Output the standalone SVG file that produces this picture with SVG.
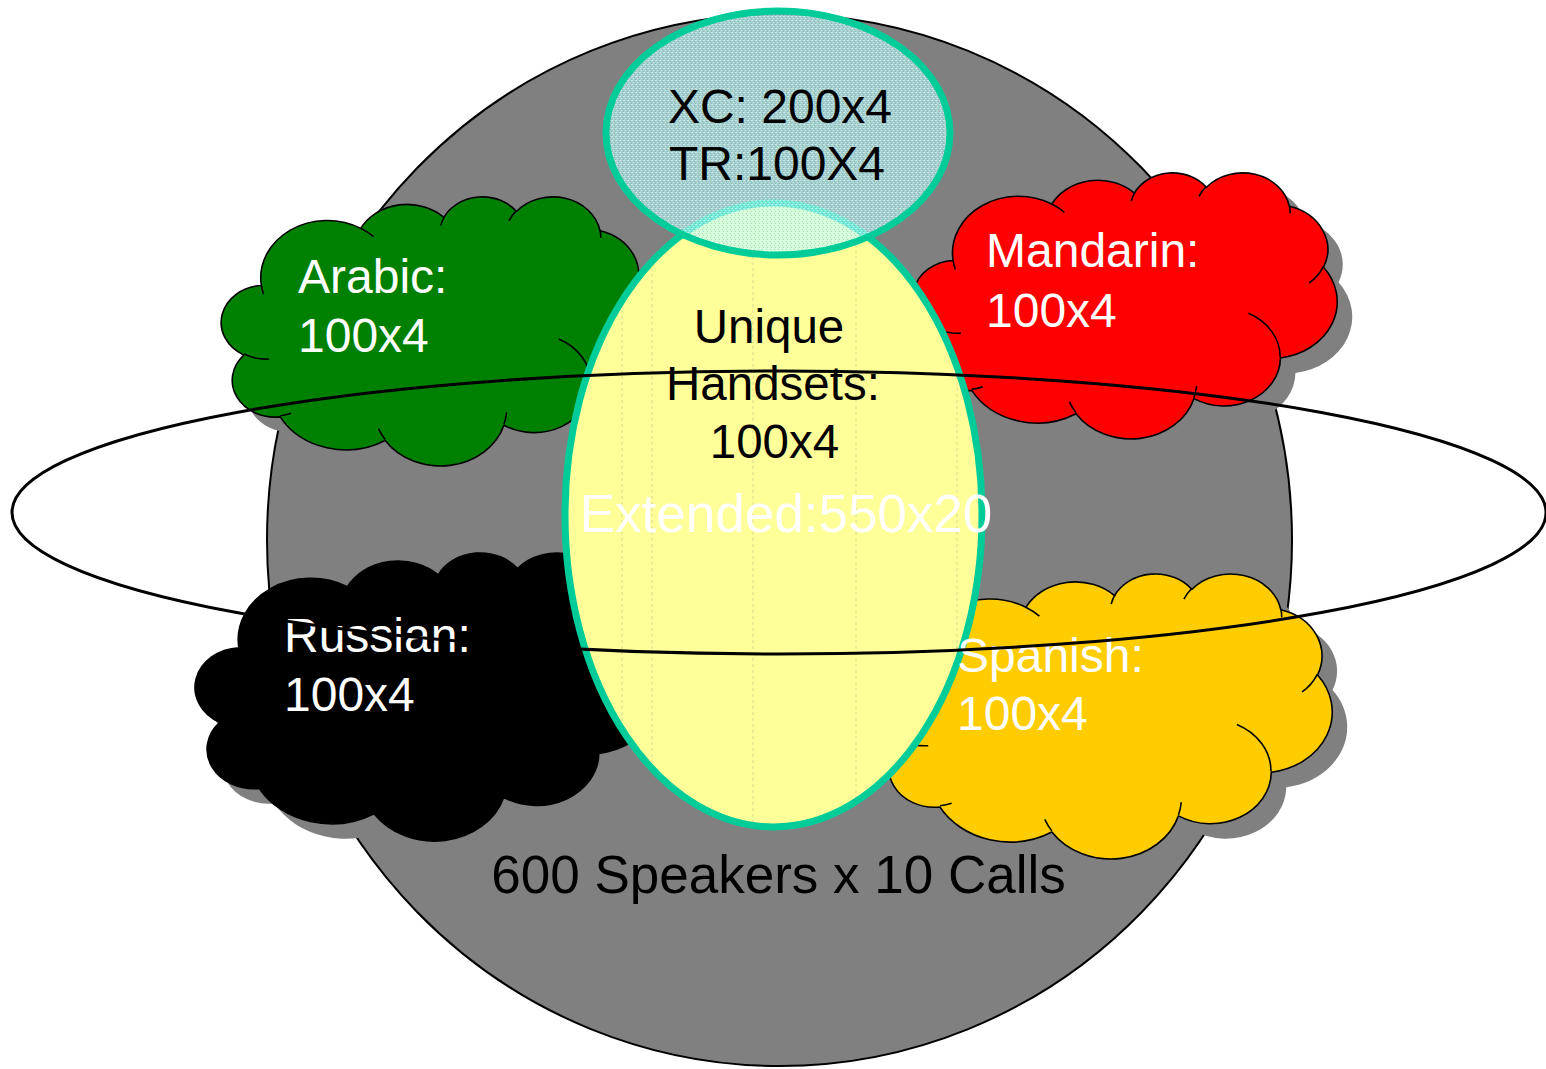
<svg xmlns="http://www.w3.org/2000/svg" xmlns:xlink="http://www.w3.org/1999/xlink" width="1546" height="1069" viewBox="0 0 1546 1069">
  <style>
    text { font-family: "Liberation Sans", Arial, sans-serif; }
    .lbl { font-size: 48px; fill: #ffffff; }
    .dark { fill: #000000; }
    .cloud { stroke: #000000; stroke-width: 1.6; stroke-linejoin: round; }
    .shadow { fill: #808080; stroke: none; }
    .curl { fill: none; stroke: #000000; stroke-width: 1.6; }
    .tex { stroke: #c9c98a; stroke-width: 1; stroke-dasharray: 3 3; opacity: 0.7; }
  </style>
  <defs>
    <path id="cloudShape" vector-effect="non-scaling-stroke" d="M3900,14370 A6753,9190 0 0 1 14005,5203 A5333,7267 0 0 1 22456,3434 A4365,5945 0 0 1 29834,2483 A4857,6595 0 0 1 38320,5577 A5333,7273 0 0 1 41821,15461 A6775,9220 0 0 1 37406,30203 A5785,7867 0 0 1 28558,36814 A6752,9215 0 0 1 16484,39267 A7720,10543 0 0 1 5807,35473 A4360,5918 0 0 1 2116,25551 A4345,5945 0 0 1 3900,14370 Z"/>
    <path id="cloudCurls" vector-effect="non-scaling-stroke" d="M4693,26177 A4345,5945 0 0 1 2160,25380 M6928,34899 A4360,5918 0 0 1 5819,35281 M16478,39090 A6752,9215 0 0 1 15809,37346 M28827,34751 A6752,9215 0 0 1 28560,36661 M34129,22954 A5785,7867 0 0 1 37381,30090 M41798,15354 A5333,7273 0 0 1 40349,18031 M38324,5426 A4857,6595 0 0 1 38401,6689 M29078,3952 A4857,6595 0 0 1 29819,2341 M22141,4720 A4365,5945 0 0 1 22539,3225 M14000,5192 A6753,9190 0 0 1 15301,6542 M4127,15789 A6753,9190 0 0 1 3901,14372"/>
    <pattern id="speckle" width="4" height="4" patternUnits="userSpaceOnUse">
      <rect width="4" height="4" fill="#b8ffff" fill-opacity="0.62"/>
      <rect x="0" y="0" width="1" height="1" fill="#ffffff" fill-opacity="0.5"/>
      <rect x="2" y="1" width="1" height="1" fill="#5a8080" fill-opacity="0.3"/>
      <rect x="1" y="2" width="1" height="1" fill="#ffffff" fill-opacity="0.45"/>
      <rect x="3" y="3" width="1" height="1" fill="#5a8080" fill-opacity="0.3"/>
      <rect x="3" y="0" width="1" height="1" fill="#e0ffff" fill-opacity="0.5"/>
    </pattern>
    <clipPath id="yclip">
      <ellipse cx="773.5" cy="515" rx="208.5" ry="312"/>
    </clipPath>
  </defs>

  <!-- big gray circle -->
  <g id="speakers">
    <ellipse cx="779.5" cy="540" rx="512.5" ry="526" fill="#808080" stroke="#000000" stroke-width="2"/>
  </g>

  <!-- clouds -->
  <g id="arabic">
    <use xlink:href="#cloudShape" class="shadow" transform="translate(238,211) scale(0.009838,0.006227)"/>
    <use xlink:href="#cloudShape" class="cloud" fill="#008000" transform="translate(223,196) scale(0.009838,0.006227)"/>
    <use xlink:href="#cloudCurls" class="curl" transform="translate(223,196) scale(0.009838,0.006227)"/>
  </g>
  <g id="mandarin">
    <use xlink:href="#cloudShape" class="shadow" transform="translate(930,187) scale(0.009769,0.006157)"/>
    <use xlink:href="#cloudShape" class="cloud" fill="#ff0000" transform="translate(915,172) scale(0.009769,0.006157)"/>
    <use xlink:href="#cloudCurls" class="curl" transform="translate(915,172) scale(0.009769,0.006157)"/>
  </g>
  <g id="russian">
    <use xlink:href="#cloudShape" class="shadow" transform="translate(212,567) scale(0.010741,0.006667)"/>
    <use xlink:href="#cloudShape" class="cloud" fill="#000000" transform="translate(197,552) scale(0.010741,0.006667)"/>
    <use xlink:href="#cloudCurls" class="curl" transform="translate(197,552) scale(0.010741,0.006667)"/>
  </g>
  <g id="spanish">
    <use xlink:href="#cloudShape" class="shadow" transform="translate(894,588) scale(0.010486,0.006597)"/>
    <use xlink:href="#cloudShape" class="cloud" fill="#ffcc00" transform="translate(879,573) scale(0.010486,0.006597)"/>
    <use xlink:href="#cloudCurls" class="curl" transform="translate(879,573) scale(0.010486,0.006597)"/>
  </g>

  <!-- unique handsets (yellow) -->
  <g id="unique">
    <ellipse cx="773.5" cy="515" rx="208.5" ry="312" fill="#ffff99"/>
    <g clip-path="url(#yclip)">
      <line class="tex" x1="622" y1="190" x2="622" y2="840"/>
      <line class="tex" x1="652" y1="190" x2="652" y2="840"/>
      <line class="tex" x1="753" y1="190" x2="753" y2="840"/>
      <line class="tex" x1="856" y1="190" x2="856" y2="840"/>
      <line class="tex" x1="957" y1="190" x2="957" y2="840"/>
    </g>
    <ellipse cx="773.5" cy="515" rx="208.5" ry="312" fill="none" stroke="#00cc99" stroke-width="7"/>
    <text x="769" y="343" text-anchor="middle" font-size="47.5" class="dark">Unique</text>
    <text x="773" y="400" text-anchor="middle" font-size="47.5" class="dark">Handsets:</text>
    <text x="774.5" y="458" text-anchor="middle" font-size="47.5" class="dark">100x4</text>
  </g>

  <!-- XC / TR ellipse -->
  <g id="xc">
    <ellipse cx="778" cy="133" rx="172" ry="122" fill="url(#speckle)" stroke="#00cc99" stroke-width="7"/>
    <text x="780" y="123" text-anchor="middle" font-size="48" class="dark">XC: 200x4</text>
    <text x="777" y="180" text-anchor="middle" font-size="48" class="dark">TR:100X4</text>
  </g>

  <!-- cloud labels -->
  <g id="arabic-label">
    <text x="298" y="293" class="lbl">Arabic:</text>
    <text x="298" y="352" class="lbl">100x4</text>
  </g>
  <g id="mandarin-label">
    <text x="986" y="267" class="lbl">Mandarin:</text>
    <text x="986" y="327" class="lbl">100x4</text>
  </g>
  <g id="russian-label">
    <text x="284" y="652" class="lbl">Russian:</text>
    <text x="284" y="711" class="lbl">100x4</text>
  </g>
  <g id="spanish-label">
    <text x="957" y="672" class="lbl">Spanish:</text>
    <text x="957" y="730" class="lbl">100x4</text>
  </g>

  <g id="speakers-label">
    <text x="778.5" y="893" text-anchor="middle" font-size="53" class="dark">600 Speakers x 10 Calls</text>
  </g>

  <!-- extended ring -->
  <g id="extended">
    <text x="786" y="532" text-anchor="middle" font-size="53" fill="#ffffff">Extended:550x20</text>
    <ellipse cx="779" cy="512.5" rx="767" ry="141.5" fill="none" stroke="#000000" stroke-width="3"/>
  </g>

  <g id="connectors"/>
</svg>
